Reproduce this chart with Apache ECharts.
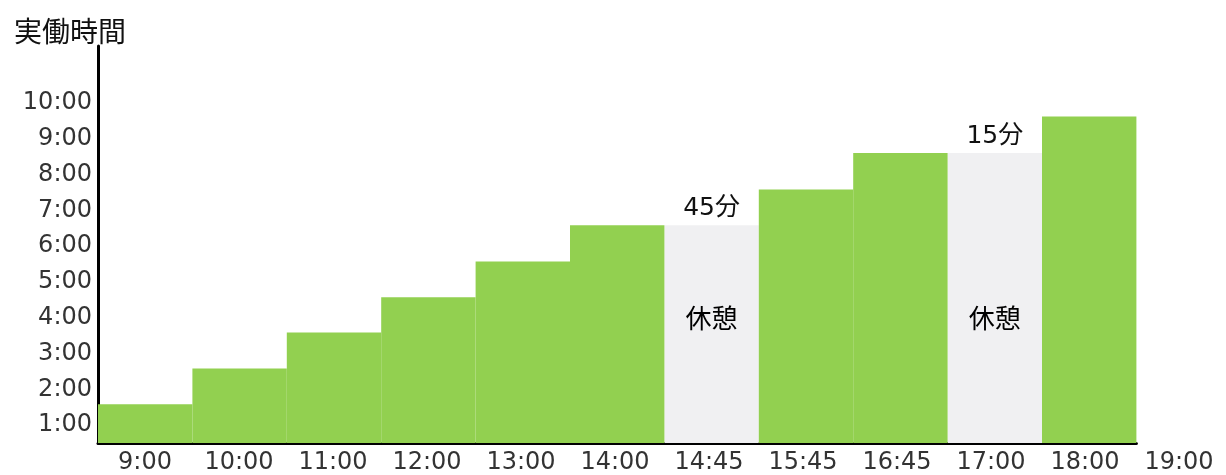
<!DOCTYPE html>
<html>
<head>
<meta charset="utf-8">
<script src="https://cdn.jsdelivr.net/npm/echarts@6/dist/echarts.min.js"></script>
<style>
html,body{margin:0;padding:0;background:#fff;}
#chart{width:1226px;height:475px;}
</style>
</head>
<body>
<div id="chart"></div>
<script>
// Bar segments (category = start time of each segment)
const barCategories = ['9:00','10:00','11:00','12:00','13:00','14:00','14:45','15:45','16:45','17:00','18:00'];
// Tick labels under the x axis (one extra at the end)
const xTickLabels = ['9:00','10:00','11:00','12:00','13:00','14:00','14:45','15:45','16:45','17:00','18:00','19:00'];
// Cumulative worked time (hours) for work segments
const workValues = [1.58, 2.58, 3.59, 4.57, 5.57, 6.58, null, 7.58, 8.6, null, 9.62];
// Break segments (height = worked time so far)
const breakValues = [null, null, null, null, null, null, 6.58, null, null, 8.6, null];
const breakDurations = ['', '', '', '', '', '', '45分', '', '', '15分', ''];
// Position of the "休憩" text (hours on the y axis)
const breakTextLevel = [null, null, null, null, null, null, 4, null, null, 4, null];
const yTickValues = [1,2,3,4,5,6,7,8,9,10];

const chart = echarts.init(document.getElementById('chart'));
const catW = 94.4;
const NUM = 'DejaVu Sans';
const CJK = '"Noto Sans CJK JP", sans-serif';
const MIX = '"DejaVu Sans", "Noto Sans CJK JP", sans-serif';

chart.setOption({
  backgroundColor: '#ffffff',
  animation: false,
  grid: [
    {left: 98, top: 46, width: catW * barCategories.length, height: 397},
    {left: 98, top: 46, width: catW * xTickLabels.length, height: 397}
  ],
  xAxis: [
    {
      type: 'category', gridIndex: 0, data: barCategories,
      axisLine: {show: true, lineStyle: {color: '#000', width: 3}},
      axisTick: {show: false}, axisLabel: {show: false}, splitLine: {show: false}
    },
    {
      type: 'category', gridIndex: 1, data: xTickLabels,
      axisLine: {show: false}, axisTick: {show: false}, splitLine: {show: false},
      axisLabel: {interval: 0, margin: 14, color: '#333', fontFamily: NUM, fontSize: 24}
    }
  ],
  yAxis: [
    {
      type: 'value', gridIndex: 0, min: 0.5, max: 11.59, interval: 0.5,
      name: '実働時間', nameLocation: 'end', nameGap: 1,
      nameTextStyle: {color: '#111', fontFamily: CJK, fontSize: 28, align: 'center', padding: [0, 56, 0, 0]},
      axisLine: {show: true, lineStyle: {color: '#000', width: 3}},
      axisTick: {show: false}, splitLine: {show: false},
      axisLabel: {
        margin: 6, color: '#333', fontFamily: NUM, fontSize: 24,
        formatter: function (v) {
          const r = Math.round(v);
          if (Math.abs(v - r) < 1e-6 && yTickValues.indexOf(r) >= 0) return r + ':00';
          return '';
        }
      }
    },
    {
      type: 'value', gridIndex: 1, min: 0.5, max: 11.59, show: false
    }
  ],
  series: [
    {
      name: 'work', type: 'bar', xAxisIndex: 0, yAxisIndex: 0,
      data: workValues, barWidth: '100%', barGap: '-100%',
      itemStyle: {color: '#92d050'}, z: 2
    },
    {
      name: 'break', type: 'bar', xAxisIndex: 0, yAxisIndex: 0,
      data: breakValues, barWidth: '100%', barGap: '-100%',
      itemStyle: {color: '#f0f0f2'}, z: 1,
      label: {
        show: true, position: 'top', distance: 4,
        color: '#111', fontFamily: MIX, fontSize: 25,
        formatter: function (p) { return breakDurations[p.dataIndex]; }
      }
    },
    {
      name: 'breakText', type: 'scatter', xAxisIndex: 0, yAxisIndex: 0,
      data: breakTextLevel, symbolSize: 1, itemStyle: {color: 'rgba(0,0,0,0)'}, z: 3,
      label: {
        show: true, position: 'inside', formatter: '休憩',
        color: '#000', opacity: 1, textBorderWidth: 0,
        fontFamily: CJK, fontSize: 26
      }
    }
  ]
});
</script>
</body>
</html>
